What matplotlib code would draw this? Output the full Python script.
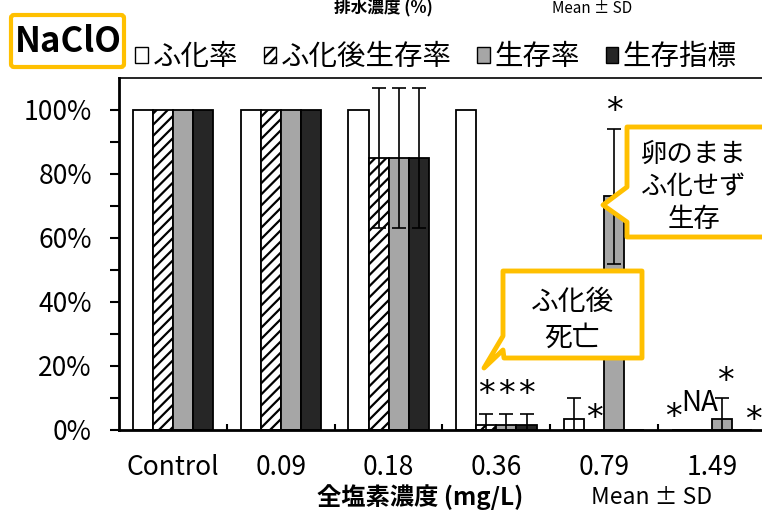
import numpy as np
import matplotlib
matplotlib.use("Agg")
import matplotlib.pyplot as plt
from matplotlib.patches import Patch, Polygon, FancyBboxPatch
from matplotlib.ticker import PercentFormatter, FixedLocator

plt.rcParams['font.family'] = ['Noto Sans CJK JP', 'DejaVu Sans']
plt.rcParams['hatch.linewidth'] = 1.6

# data
categories = ['Control', '0.09', '0.18', '0.36', '0.79', '1.49']
series_names = ['ふ化率', 'ふ化後生存率', '生存率', '生存指標']
hatch_rate = [1.00, 1.00, 1.00, 1.00, 0.033, 0.0]
hatch_rate_sd = [0, 0, 0, 0, 0.067, 0]
post_survival = [1.00, 1.00, 0.85, 0.015, 0.0, np.nan]
post_survival_sd = [0, 0, 0.22, 0.035, 0, 0]
survival = [1.00, 1.00, 0.85, 0.015, 0.73, 0.033]
survival_sd = [0, 0, 0.22, 0.035, 0.21, 0.067]
survival_index = [1.00, 1.00, 0.85, 0.015, 0.0, 0.0]
survival_index_sd = [0, 0, 0.22, 0.035, 0, 0]

# significance marks: (category, series, label, y value)
marks = [
    (3, 1, '*', 0.11), (3, 2, '*', 0.11), (3, 3, '*', 0.11),
    (4, 1, '*', 0.037), (4, 2, '*', 0.995),
    (5, 0, '*', 0.04), (5, 1, 'NA', 0.083), (5, 2, '*', 0.153), (5, 3, '*', 0.03),
]
mark_shift = {(5, 0): -0.08, (5, 1): -0.02, (5, 2): 0.03, (5, 3): 0.1}

values = [hatch_rate, post_survival, survival, survival_index]
errors = [hatch_rate_sd, post_survival_sd, survival_sd, survival_index_sd]
colors = ['white', 'white', '#a6a6a6', '#262626']
hatches = [None, '///', None, None]

W, H = 762, 512
fig = plt.figure(figsize=(W / 100, H / 100), dpi=100)
ax = fig.add_axes([119 / W, (H - 430) / H, (766 - 119) / W, (430 - 78) / H])

x = np.arange(len(categories))
bw = 0.186
offsets = (np.arange(4) - 1.5) * bw
for i in range(4):
    v = np.nan_to_num(np.array(values[i], dtype=float))
    ax.bar(x + offsets[i], v, bw, color=colors[i], hatch=hatches[i],
           edgecolor='black', linewidth=1.3, zorder=2)
    sd = np.array(errors[i], dtype=float)
    m = sd > 0
    ax.errorbar(x[m] + offsets[i], v[m], yerr=sd[m], fmt='none', ecolor='black',
                elinewidth=1.2, capsize=5, capthick=1.2, zorder=3)

for c, s, lab, yv in marks:
    xx = c + offsets[s] + mark_shift.get((c, s), 0)
    if lab == '*':
        ax.text(xx, yv, lab, ha='center', va='center', fontsize=24,
                family='DejaVu Sans', zorder=4)
    else:
        ax.text(xx, yv, lab, ha='center', va='center', fontsize=20, zorder=4)

ax.set_xlim(-0.5, len(categories) - 0.5)
ax.set_ylim(0, 1.1)
ax.set_yticks(np.arange(0, 1.01, 0.2))
ax.yaxis.set_minor_locator(FixedLocator(np.arange(0.1, 1.0, 0.2)))
ax.yaxis.set_major_formatter(PercentFormatter(1.0, decimals=0))
ax.tick_params(axis='y', which='both', direction='out', length=6.5, width=1.5,
               labelsize=19, pad=13)
ax.set_xticks(x)
ax.set_xticklabels(categories)
ax.tick_params(axis='x', which='major', length=0, labelsize=19, pad=17)
ax.xaxis.set_minor_locator(FixedLocator(np.arange(0.5, len(categories) - 0.5, 1)))
ax.tick_params(axis='x', which='minor', direction='in', length=4.5, width=1.5)
for sp in ['left', 'bottom']:
    ax.spines[sp].set_linewidth(2)
ax.spines['top'].set_linewidth(1.2)
ax.spines['right'].set_visible(False)

handles = [Patch(facecolor=colors[i], edgecolor='black', hatch=hatches[i], linewidth=1)
           for i in range(4)]
fig.legend(handles, series_names, loc='center', bbox_to_anchor=(436 / W, 1 - 57 / H),
           ncol=4, frameon=False, fontsize=20.5, handlelength=0.45, handleheight=0.45,
           handletextpad=0.15, columnspacing=0.9)

# axis titles
fig.text(420 / W, 1 - 497 / H, '全塩素濃度 (mg/L)', ha='center', va='center',
         fontsize=17.5, fontweight='bold')
fig.text(652 / W, 1 - 497 / H, 'Mean ± SD', ha='center', va='center', fontsize=16.5)
# texts of the slide above (small, at the very top)
fig.text(383 / W, 1 - 13 / H, '排水濃度 (%)', ha='center', va='baseline',
         fontsize=12, fontweight='bold')
fig.text(592 / W, 1 - 13 / H, 'Mean ± SD', ha='center', va='baseline', fontsize=11)

# overlay in pixel coordinates for call-outs
ov = fig.add_axes([0, 0, 1, 1], zorder=10)
ov.set_xlim(0, W)
ov.set_ylim(H, 0)
ov.axis('off')
ov.patch.set_alpha(0)
yellow = '#ffc000'

ov.add_patch(FancyBboxPatch((11, 15), 113, 52, boxstyle='round,pad=0,rounding_size=3',
                            facecolor='white', edgecolor=yellow, linewidth=3))
ov.text(68, 41, 'NaClO', ha='center', va='center', fontsize=25, fontweight='bold')

call1 = [(627, 127), (780, 127), (780, 237), (627, 237), (627, 222), (603, 205),
         (627, 187)]
ov.add_patch(Polygon(call1, closed=True, facecolor='white', edgecolor=yellow,
                     linewidth=3.5, joinstyle='round'))
ov.text(694, 187, '卵のまま\nふ化せず\n生存', ha='center', va='center', fontsize=19,
        linespacing=1.25)

call2 = [(503, 271), (642, 271), (642, 358), (504, 358), (503, 350), (484, 368),
         (503, 336)]
ov.add_patch(Polygon(call2, closed=True, facecolor='white', edgecolor=yellow,
                     linewidth=3.5, joinstyle='round'))
ov.text(572, 320, 'ふ化後\n死亡', ha='center', va='center', fontsize=20,
        linespacing=1.25)

fig.savefig('out.png', dpi=100)
